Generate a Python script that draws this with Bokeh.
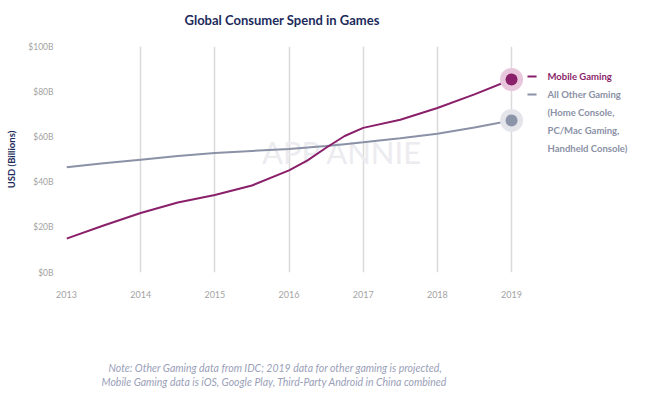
from bokeh.plotting import figure
from bokeh.models import Range1d, FixedTicker, Label, BoxAnnotation, Title
from bokeh.embed import file_html
from bokeh.resources import INLINE

# ---- data (USD billions) ----
years = [2013, 2013.5, 2014, 2014.5, 2015, 2015.5, 2016, 2016.25, 2016.5, 2016.75, 2017, 2017.5, 2018, 2018.5, 2019]
mobile = [15.0, 20.8, 26.3, 31.0, 34.3, 38.5, 45.2, 49.6, 55.2, 60.4, 64.0, 67.6, 72.8, 78.8, 85.4]
other = [46.6, 48.3, 49.9, 51.5, 52.9, 53.8, 54.7, 55.3, 56.0, 56.8, 57.6, 59.4, 61.4, 64.2, 67.3]

x_ticks = [2013, 2014, 2015, 2016, 2017, 2018, 2019]
x_tick_labels = ["2013", "2014", "2015", "2016", "2017", "2018", "2019"]
y_ticks = [0, 20, 40, 60, 80, 100]
y_tick_labels = ["$0B", "$20B", "$40B", "$60B", "$80B", "$100B"]

title_text = "Global Consumer Spend in Games"
y_label = "USD (Billions)"
legend_mobile = ["Mobile Gaming"]
legend_other = ["All Other Gaming", "(Home Console,", "PC/Mac Gaming,", "Handheld Console)"]
note_lines = ["Note: Other Gaming data from IDC; 2019 data for other gaming is projected,",
              "Mobile Gaming data is iOS, Google Play, Third-Party Android in China combined"]

FONT = "Lato"
MOBILE_C = "#8a1f6a"
OTHER_C = "#8b91a6"
NAVY = "#1d2b5c"
NOTE_C = "#9aa0b8"

p = figure(width=645, height=391, output_backend="svg", toolbar_location=None, title=None,
           x_range=Range1d(2013, 2020.806), y_range=Range1d(0, 100),
           min_border_left=66, min_border_right=0, min_border_top=46, min_border_bottom=119)
p.outline_line_color = None
p.background_fill_color = "white"
p.border_fill_color = "white"

# title (spacer closest to the frame, then the title)
p.add_layout(Title(text=" ", text_font=FONT, text_font_size="10px", standoff=5), "above")
p.add_layout(Title(text=title_text, align="left", offset=118, standoff=0, text_font=FONT,
                   text_font_style="bold", text_font_size="13px", text_color=NAVY), "above")

# axes
p.xaxis.ticker = FixedTicker(ticks=x_ticks)
p.xaxis.major_label_overrides = {t: l for t, l in zip(x_ticks, x_tick_labels)}
p.yaxis.ticker = FixedTicker(ticks=y_ticks)
p.yaxis.major_label_overrides = {t: l for t, l in zip(y_ticks, y_tick_labels)}
for ax in (p.xaxis[0], p.yaxis[0]):
    ax.axis_line_color = None
    ax.major_tick_line_color = None
    ax.minor_tick_line_color = None
    ax.major_label_text_font = FONT
    ax.major_label_text_color = "#a3a3a3"
p.xaxis.major_label_text_font_size = "9px"
p.yaxis.major_label_text_font_size = "8.5px"
p.xaxis.major_label_standoff = 12
p.yaxis.major_label_standoff = 7
p.yaxis.axis_label = y_label
p.yaxis.axis_label_text_font = FONT
p.yaxis.axis_label_text_font_style = "bold"
p.yaxis.axis_label_text_font_size = "9.5px"
p.yaxis.axis_label_text_color = NAVY
p.yaxis.axis_label_standoff = 8

p.xgrid.ticker = FixedTicker(ticks=x_ticks)
p.xgrid.grid_line_color = "#dadada"
p.xgrid.grid_line_width = 1.5
p.ygrid.grid_line_color = None

# note (below the x axis), with a blank spacer first
p.add_layout(Title(text=" ", text_font=FONT, text_font_size="10px", standoff=45), "below")
for t, off in zip(note_lines, [42, 35]):
    p.add_layout(Title(text=t, align="left", offset=off, text_font=FONT, text_font_style="italic",
                       text_font_size="10.5px", text_color=NOTE_C, standoff=0), "below")

# watermark
p.add_layout(Label(x=2016.72, y=53.1, text="APP ANNIE", text_font=FONT, text_font_size="31px",
                   text_color="#ececf0", text_align="center", text_baseline="middle", level="underlay"))

# lines
p.line(years, other, line_color=OTHER_C, line_width=2)
p.line(years, mobile, line_color=MOBILE_C, line_width=2)

# end dots
p.scatter([years[-1]], [mobile[-1]], size=23, color="#e8c7dc", line_color=None)
p.scatter([years[-1]], [mobile[-1]], size=12, color=MOBILE_C, line_color=None)
p.scatter([years[-1]], [other[-1]], size=23, color="#e4e5eb", line_color=None)
p.scatter([years[-1]], [other[-1]], size=12, color="#8c94a9", line_color=None)

# legend
LEG_X0, LEG_X1, LEG_TX = 2019.215, 2019.337, 2019.485
leg_y = [86.7, 78.8, 70.8, 62.8, 54.9]
p.add_layout(BoxAnnotation(left=LEG_X0, right=LEG_X1, bottom=leg_y[0] - 0.45, top=leg_y[0] + 0.45,
                           fill_color=MOBILE_C, fill_alpha=1, line_color=None))
p.add_layout(BoxAnnotation(left=LEG_X0, right=LEG_X1, bottom=leg_y[1] - 0.45, top=leg_y[1] + 0.45,
                           fill_color=OTHER_C, fill_alpha=1, line_color=None))
for i, t in enumerate(legend_mobile + legend_other):
    p.add_layout(Label(x=LEG_TX, y=leg_y[i], text=t, text_font=FONT, text_font_style="bold",
                       text_font_size="9.5px", text_color=MOBILE_C if i == 0 else OTHER_C,
                       text_baseline="middle", text_align="left"))

open("out.html", "w").write(file_html(p, INLINE))
